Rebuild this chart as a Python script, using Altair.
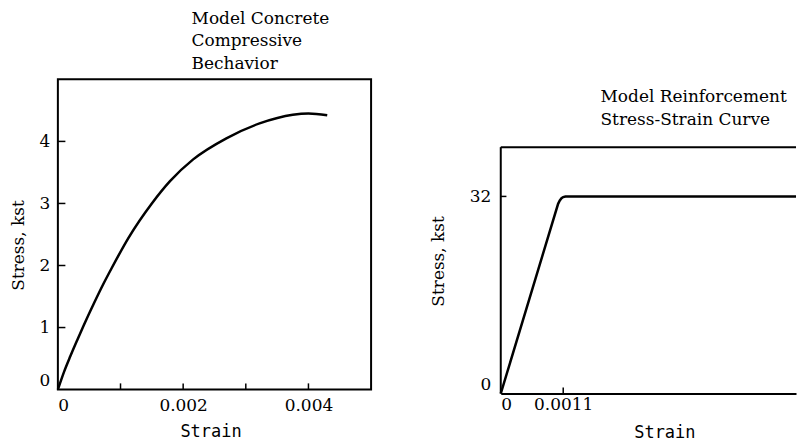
import altair as alt
import pandas as pd

# ---- data ----
concrete_strain = [0, 0.0001, 0.0002, 0.00031, 0.00041, 0.00058, 0.00073, 0.00086,
                   0.00113, 0.0015, 0.00179, 0.00216, 0.00269, 0.00322, 0.00375, 0.0040, 0.0043]
concrete_stress = [0, 0.29, 0.54, 0.80, 1.03, 1.40, 1.71, 1.96,
                   2.45, 3.00, 3.36, 3.71, 4.05, 4.29, 4.43, 4.45, 4.42]

steel_strain = [0, 0.00101, 0.00104, 0.00107, 0.00110, 0.00114, 0.0052]
steel_stress = [0, 30.8, 31.35, 31.7, 31.9, 32, 32]

left_x_ticks = [0, 0.002, 0.004]
left_x_minor = [0.001, 0.002, 0.003, 0.004]
left_y_ticks = [0, 1, 2, 3, 4]
left_y_minor = [1, 2, 3, 4]

right_x_ticks = [0, 0.0011]
right_y_ticks = [0, 32]
right_frame_top = 40

SERIF = "DejaVu Serif"
MONO = "DejaVu Sans Mono"

conc = pd.DataFrame({"strain": concrete_strain, "stress": concrete_stress})
steel = pd.DataFrame({"strain": steel_strain, "stress": steel_stress})

# ---------------- left panel ----------------
lx = alt.Scale(domain=[0, 0.005], nice=False)
ly = alt.Scale(domain=[0, 5], nice=False)

left_line = alt.Chart(conc).mark_line(color="black", strokeWidth=2.5, interpolate="monotone").encode(
    x=alt.X("strain:Q", scale=lx,
            axis=alt.Axis(values=left_x_ticks, format="~g", title="Strain", grid=False,
                          domain=False, ticks=False, labelPadding=8,
                          labelFont=SERIF, labelFontSize=17, labelColor="black",
                          titleFont=MONO, titleFontSize=17, titleFontWeight="normal",
                          titleColor="black", titlePadding=10, titleX=153)),
    y=alt.Y("stress:Q", scale=ly,
            axis=alt.Axis(values=left_y_ticks, format="d", title="Stress, kst", grid=False,
                          domain=False, ticks=False, labelPadding=8, labelFlush=True,
                          labelFont=SERIF, labelFontSize=17, labelColor="black",
                          titleFont=SERIF, titleFontSize=17, titleFontWeight="normal",
                          titleColor="black", titlePadding=12, titleY=166)),
)

lxt = pd.DataFrame({"x": left_x_minor, "y0": [0] * 4, "y1": [0.1] * 4})
left_xticks = alt.Chart(lxt).mark_rule(color="black", strokeWidth=1.5).encode(
    x=alt.X("x:Q", scale=lx), y=alt.Y("y0:Q", scale=ly), y2="y1:Q")
lyt = pd.DataFrame({"y": left_y_minor, "x0": [0] * 4, "x1": [0.00012] * 4})
left_yticks = alt.Chart(lyt).mark_rule(color="black", strokeWidth=1.5).encode(
    y=alt.Y("y:Q", scale=ly), x=alt.X("x0:Q", scale=lx), x2="x1:Q")

left = alt.layer(left_line, left_xticks, left_yticks).properties(
    width=314, height=311,
    view=alt.ViewBackground(stroke="black", strokeWidth=2),
    title=alt.TitleParams(
        text="Model Concrete", subtitle=["Compressive", "Bechavior"],
        anchor="start", frame="group", dx=134, font=SERIF, fontSize=17, fontWeight="normal",
        color="black", subtitleFont=SERIF, subtitleFontSize=17, subtitleColor="black",
        subtitleLineHeight=23, subtitlePadding=6, offset=6),
)

# ---------------- right panel ----------------
rx = alt.Scale(domain=[0, 0.0052], nice=False)
ry = alt.Scale(domain=[0, 51.0], nice=False)

right_line = alt.Chart(steel).mark_line(color="black", strokeWidth=2.5).encode(
    x=alt.X("strain:Q", scale=rx,
            axis=alt.Axis(values=right_x_ticks, format="~g", title="Strain", grid=False,
                          domain=True, domainColor="black", domainWidth=2,
                          ticks=False, labelPadding=3,
                          labelFont=SERIF, labelFontSize=17, labelColor="black",
                          titleFont=MONO, titleFontSize=17, titleFontWeight="normal",
                          titleColor="black", titlePadding=12, titleX=164)),
    y=alt.Y("stress:Q", scale=ry,
            axis=alt.Axis(values=right_y_ticks, format="d", title="Stress, kst", grid=False,
                          domain=False, ticks=False, labelPadding=10, labelFlush=True,
                          labelFont=SERIF, labelFontSize=17, labelColor="black",
                          titleFont=SERIF, titleFontSize=17, titleFontWeight="normal",
                          titleColor="black", titlePadding=22, titleY=182)),
)

frame = pd.DataFrame({"x0": [0, 0], "x1": [0, 0.0052], "y0": [0, right_frame_top],
                      "y1": [right_frame_top, right_frame_top]})
right_frame = alt.Chart(frame).mark_rule(color="black", strokeWidth=2).encode(
    x=alt.X("x0:Q", scale=rx), x2="x1:Q", y=alt.Y("y0:Q", scale=ry), y2="y1:Q")

rt = pd.DataFrame({"x0": [0.0011, 0], "x1": [0.0011, 0.0001], "y0": [0, 32], "y1": [1, 32]})
right_ticks = alt.Chart(rt).mark_rule(color="black", strokeWidth=1.5).encode(
    x=alt.X("x0:Q", scale=rx), x2="x1:Q", y=alt.Y("y0:Q", scale=ry), y2="y1:Q")

right = alt.layer(right_line, right_frame, right_ticks).properties(
    width=296, height=315,
    view=alt.ViewBackground(stroke="transparent", strokeOpacity=0),
    title=alt.TitleParams(
        text=["Model Reinforcement", "Stress-Strain Curve"],
        anchor="start", frame="group", dx=100, dy=56, font=SERIF, fontSize=17,
        fontWeight="normal", color="black", lineHeight=23, offset=6),
)

chart = alt.hconcat(left, right, spacing=57).properties(
    padding={"left": 0, "top": 0, "right": 0, "bottom": 0}
).configure_view(stroke="transparent").configure(background="white")

chart.save("out.html", embed_options={"renderer": "svg", "actions": False})
